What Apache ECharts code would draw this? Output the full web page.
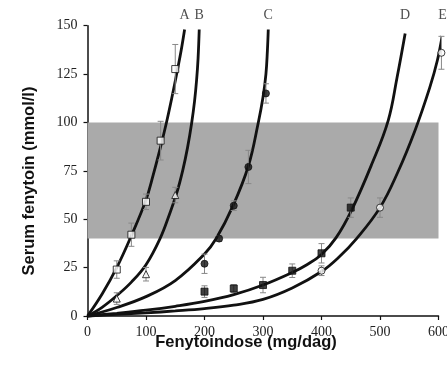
<!DOCTYPE html>
<html><head><meta charset="utf-8">
<script src="https://cdn.jsdelivr.net/npm/echarts@6/dist/echarts.min.js"></script>
<style>html,body{margin:0;padding:0;background:#fff}#c{width:447px;height:368px}</style>
</head><body><div id="c"></div>
<script>
// Curves
const curveA = [[0,0],[25,11.4],[50,25],[75,41.5],[100,60],[112,72.5],[125,87.5],[135,100],[144,112.5],[154,127.5],[160,137],[166,148]];
const curveB = [[0,0],[25,4.5],[50,10.5],[75,17.5],[100,26.5],[124,40],[140,52.5],[153,64],[163,75.5],[171,87],[178,99.6],[183,111],[186.5,122],[189,133],[191,148]];
const curveC = [[0,0],[50,4.4],[100,10],[150,18.3],[200,32],[220,40],[248,56.5],[275,77.5],[292,100],[300,113],[305,125],[307.5,137],[309,148]];
const curveD = [[0,0],[50,1.4],[100,3],[150,5],[200,7.5],[250,11],[300,16],[350,22.5],[375,26.5],[400,31.8],[425,40.5],[452,55],[486,78.5],[514,101],[529,123],[543,146]];
const curveE = [[0,0],[50,0.8],[100,1.6],[150,2.6],[200,3.8],[250,5.6],[300,8.6],[350,14.5],[400,23],[430,30.5],[460,40],[500,56],[530,74],[560,96],[585,118],[598,132],[607,146]];
const curveLabels = ['A','B','C','D','E'];

// Measured points [dose, level] and error (+/-)
const ptsA = [[50,24],[75,42],[100,59],[125,90.6],[150,127.6]];
const errA = [4.5,6,4,10,12.7];
const ptsB = [[50,9],[100,21.6],[150,62.5]];
const errB = [3,3.5,4];
const ptsC = [[200,27],[225,40],[250,57],[275,77],[305,115]];
const errC = [5,1.5,2.5,8.6,5];
const ptsD = [[200,12.6],[250,14.2],[300,16],[350,23.4],[400,32.4],[450,56]];
const errD = [3,2,4,3.5,5,5];
const ptsE = [[400,23.4],[500,56],[605,136]];
const errE = [2.5,5,8.5];

// Therapeutic band
const bandX = [0,602];
const bandY = [40,100];

const xTicks = [0,600,100];
const yTicks = [0,150,25];

function withErr(p,e){return p.map((d,i)=>[d[0],d[1],e[i]]);}
const allErr = [].concat(withErr(ptsA,errA),withErr(ptsB,errB),withErr(ptsC,errC),withErr(ptsD,errD),withErr(ptsE,errE));
const curves = [curveA,curveB,curveC,curveD,curveE];
const labelData = curves.map((c,i)=>({value:[c[c.length-1][0],yTicks[1]],name:curveLabels[i]}));

function curveSeries(data){
  return {type:'line',data:data,smooth:0.4,showSymbol:false,symbol:'none',clip:false,z:3,
    lineStyle:{color:'#111',width:2.8},silent:true};
}
function scatter(data,symbol,fill,size){
  return {type:'scatter',data:data,symbol:symbol,symbolSize:size,clip:false,z:5,
    itemStyle:{color:fill,borderColor:'#111',borderWidth:1}};
}

const chart = echarts.init(document.getElementById('c'),null,{renderer:'canvas'});
chart.setOption({
  animation:false,
  backgroundColor:'#fff',
  grid:{left:87.5,right:8.5,top:25.7,bottom:52,containLabel:false,outerBoundsMode:'none'},
  xAxis:{type:'value',min:xTicks[0],max:xTicks[1],interval:xTicks[2],
    axisLine:{lineStyle:{color:'#111',width:1.5}},
    axisTick:{show:true,length:4,lineStyle:{color:'#111',width:1.2}},
    axisLabel:{color:'#222',fontFamily:'Liberation Serif',fontSize:14,margin:9},
    splitLine:{show:false}},
  yAxis:{type:'value',min:yTicks[0],max:yTicks[1],interval:yTicks[2],
    axisLine:{show:true,lineStyle:{color:'#111',width:1.5}},
    axisTick:{show:true,length:4,lineStyle:{color:'#111',width:1.2}},
    axisLabel:{color:'#222',fontFamily:'Liberation Serif',fontSize:14,margin:10},
    splitLine:{show:false}},
  graphic:[
    {type:'text',x:29,y:181,rotation:Math.PI/2,
      style:{text:'Serum fenytoin (mmol/l)',fontFamily:'Liberation Sans',fontWeight:'bold',fontSize:16.5,fill:'#111',align:'center',verticalAlign:'middle'}},
    {type:'text',x:246,y:342,
      style:{text:'Fenytoindose (mg/dag)',fontFamily:'Liberation Sans',fontWeight:'bold',fontSize:16.5,fill:'#111',align:'center',verticalAlign:'middle'}}
  ],
  series:[
    {type:'line',data:[[bandX[0],bandY[0]]],showSymbol:false,symbol:'none',lineStyle:{opacity:0},z:1,silent:true,
      markArea:{silent:true,itemStyle:{color:'#aaaaaa'},data:[[{coord:[bandX[0],bandY[0]]},{coord:[bandX[1],bandY[1]]}]]},
      markLine:{silent:true,symbol:'none',label:{show:false},lineStyle:{color:'#222',type:'dotted',width:1.5},
        data:[[{coord:[bandX[0],bandY[0]]},{coord:[bandX[1],bandY[0]]}],[{coord:[bandX[0],bandY[1]]},{coord:[bandX[1],bandY[1]]}]]}},
    curveSeries(curveA),
    curveSeries(curveB),
    curveSeries(curveC),
    curveSeries(curveD),
    curveSeries(curveE),
    {type:'scatter',data:labelData,symbolSize:0,clip:false,z:6,silent:true,
      label:{show:true,position:'top',distance:3,formatter:'{b}',color:'#222',fontFamily:'Liberation Serif',fontSize:14}},
    {type:'custom',data:allErr,z:4,silent:true,clip:false,
      renderItem:function(params,api){
        const x=api.value(0),y=api.value(1),e=api.value(2);
        const top=api.coord([x,y+e]),bot=api.coord([x,y-e]);
        const c=3;
        const st={stroke:'#888',lineWidth:1};
        return {type:'group',children:[
          {type:'line',shape:{x1:top[0],y1:top[1],x2:bot[0],y2:bot[1]},style:st},
          {type:'line',shape:{x1:top[0]-c,y1:top[1],x2:top[0]+c,y2:top[1]},style:st},
          {type:'line',shape:{x1:bot[0]-c,y1:bot[1],x2:bot[0]+c,y2:bot[1]},style:st}
        ]};
      }},
    scatter(ptsA,'rect','#fff',7),
    scatter(ptsB,'triangle','#fff',7),
    scatter(ptsC,'circle','#111',7),
    scatter(ptsD,'rect','#111',7),
    scatter(ptsE,'circle','#fff',7)
  ]
});
</script></body></html>
